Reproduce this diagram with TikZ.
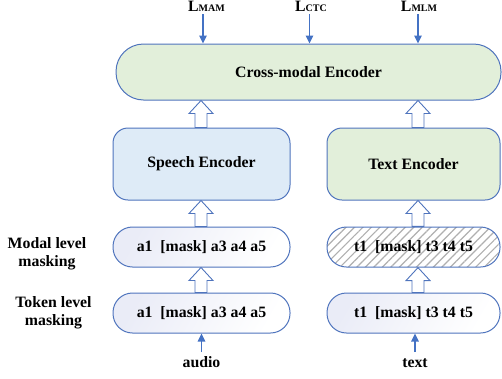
\documentclass[tikz,border=0pt]{standalone}
\usepackage{fontspec}
\setmainfont{Liberation Serif}
\usetikzlibrary{arrows.meta,calc,patterns.meta}
\definecolor{bordc}{HTML}{4F74BD}
\definecolor{arrc}{HTML}{4472C4}
\definecolor{greenf}{HTML}{E2EFDA}
\definecolor{bluef}{HTML}{DEEBF7}
\definecolor{lav}{HTML}{EAECF7}
\definecolor{hatchc}{HTML}{AFAFAF}
\newcommand\hollowarrow[3]{%
  \draw[hollow] let \p1=(#1.north), \p2=(#2.south) in
    (#3pt-6pt,\y1) -- (#3pt-6pt,\y2-13pt) -- (#3pt-12pt,\y2-13pt) -- (#3pt,\y2)
    -- (#3pt+12pt,\y2-13pt) -- (#3pt+6pt,\y2-13pt) -- (#3pt+6pt,\y1) -- cycle;}
\newcommand\losslabel[2]{\textbf{#1{\fontsize{10}{10}\selectfont #2}}}
\begin{document}
\begin{tikzpicture}[x=1pt,y=-1pt,
  font=\fontsize{15.8}{18}\selectfont\bfseries,
  box/.style={draw=bordc, line width=1pt, inner sep=0pt, align=center},
  bigbox/.style={box, minimum width=#1, minimum height=72pt, rounded corners=15pt},
  pillbox/.style={box, minimum width=#1, minimum height=40pt, rounded corners=19.5pt},
  gradbox/.style={left color=lav, right color=white, shading angle=60},
  hatchbox/.style={pattern={Lines[angle=45,distance=6pt,line width=1.2pt]}, pattern color=hatchc},
  hollow/.style={draw=bordc, line width=0.9pt, fill=white},
  thinarrow/.style={draw=arrc, line width=1.2pt, -{Triangle[width=7.5pt,length=8pt]}},
  lbl/.style={inner sep=0pt, align=center}]
\useasboundingbox (0,0) rectangle (502,378);

% main boxes
\node[box, fill=greenf, minimum width=385pt, minimum height=56pt, rounded corners=27.5pt] (cross) at (308.5,72) {Cross-modal Encoder};
\node[bigbox=177pt, fill=bluef] (speech) at (201.5,164) {Speech Encoder};
\node[bigbox=173pt, fill=greenf] (textenc) at (413.5,164) {Text Encoder};
\node[pillbox=177pt, gradbox] (amodal) at (201.5,247) {a1\ \ [mask] a3 a4 a5};
\node[pillbox=173pt, hatchbox] (tmodal) at (413.5,247) {t1\ \ [mask] t3 t4 t5};
\node[pillbox=177pt, gradbox] (atok) at (201.5,313) {a1\ \ [mask] a3 a4 a5};
\node[pillbox=173pt, gradbox] (ttok) at (413.5,313) {t1\ \ [mask] t3 t4 t5};

% left labels
\node[lbl] (modallbl) at (47,254) {Modal level\\masking};
\node[lbl] (toklbl) at (53.5,313) {Token level\\masking};

% bottom labels
\node[lbl, anchor=base] (audio) at (201.5,367) {audio};
\node[lbl, anchor=base] (text) at (415,367) {text};
\coordinate (audt) at (201.5,352);
\coordinate (txtt) at (415,352);
\draw[thinarrow] (audt) -- (audt |- atok.south);
\draw[thinarrow] (txtt) -- (txtt |- ttok.south);

% loss labels
\node[lbl, anchor=base] (lmam) at (206.5,11) {\losslabel{L}{MAM}};
\node[lbl, anchor=base] (lctc) at (311,11) {\losslabel{L}{CTC}};
\node[lbl, anchor=base] (lmlm) at (419,11) {\losslabel{L}{MLM}};
\coordinate (pmam) at (203,14);
\coordinate (pctc) at (309.5,14);
\coordinate (pmlm) at (418,14);
\draw[thinarrow] (pmam) -- (pmam |- cross.north);
\draw[thinarrow] (pctc) -- (pctc |- cross.north);
\draw[thinarrow] (pmlm) -- (pmlm |- cross.north);

% hollow arrows
\hollowarrow{speech}{cross}{201}
\hollowarrow{textenc}{cross}{418}
\hollowarrow{amodal}{speech}{201}
\hollowarrow{tmodal}{textenc}{418}
\hollowarrow{atok}{amodal}{201}
\hollowarrow{ttok}{tmodal}{418}
\end{tikzpicture}
\end{document}
